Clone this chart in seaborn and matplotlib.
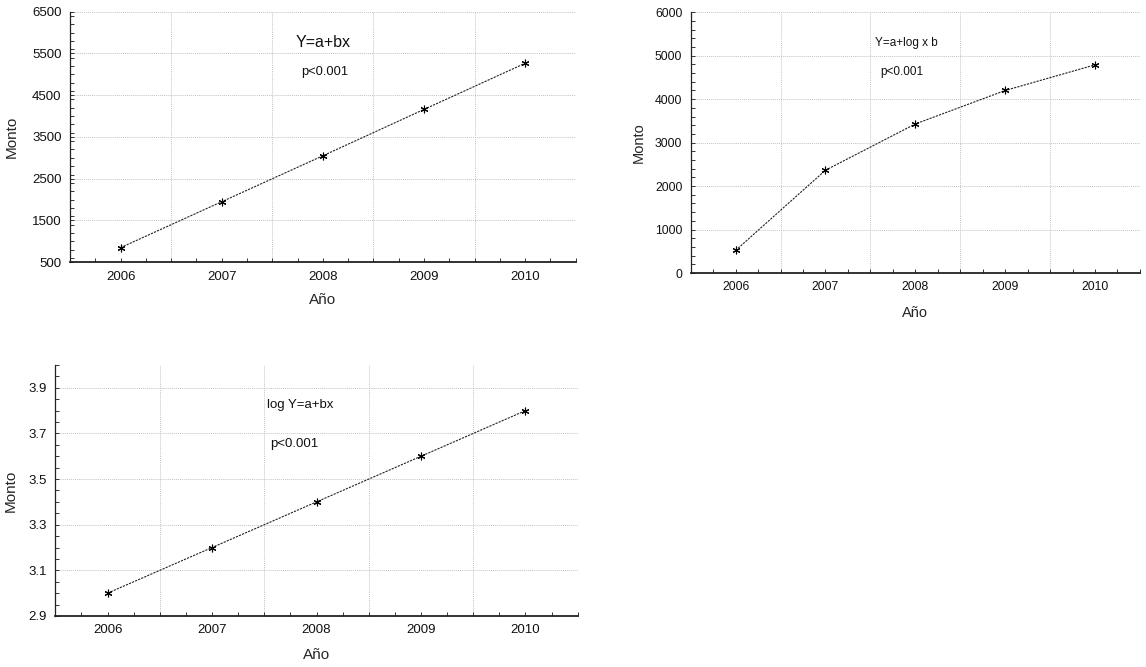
import numpy as np
import pandas as pd
import matplotlib
matplotlib.use("Agg")
import matplotlib.pyplot as plt
from matplotlib.ticker import FixedLocator, MultipleLocator
import seaborn as sns

# Data
years = [2006, 2007, 2008, 2009, 2010]
monto_lineal = [850, 1950, 3050, 4160, 5265]
monto_log = [520, 2365, 3430, 4200, 4790]
log_monto = [3.0, 3.2, 3.4, 3.6, 3.8]

sns.set_style("white")
plt.rcParams["font.family"] = ["Liberation Sans", "DejaVu Sans"]
plt.rcParams["text.color"] = "#111111"

fig = plt.figure(figsize=(11.46, 6.67), dpi=100)

# axes rectangles in figure fraction
ax1 = fig.add_axes([0.0611, 0.6068, 0.4413, 0.3757])
ax2 = fig.add_axes([0.6027, 0.5907, 0.3920, 0.3909])
ax3 = fig.add_axes([0.0483, 0.0765, 0.4558, 0.3763])

line_kw = dict(color="#222222", linewidth=0.8, linestyle=(0, (2.0, 1.0)),
               marker=(6, 2, 0), markersize=5.5, markeredgewidth=0.8,
               markeredgecolor="black")


def style_axes(ax, ylim, ymajor, yminor, tick_fs, label_fs, xlab_off, ylab_off, h_px, w_px):
    ax.set_xlim(2005.5, 2010.5)
    ax.set_ylim(*ylim)
    ax.xaxis.set_major_locator(FixedLocator(years))
    ax.xaxis.set_minor_locator(MultipleLocator(0.25))
    ax.yaxis.set_major_locator(FixedLocator(ymajor))
    ax.yaxis.set_minor_locator(MultipleLocator(yminor))
    ax.set_xticklabels([str(y) for y in years])
    ax.tick_params(axis="both", which="both", direction="in", length=3,
                   width=0.7, color="#333333", labelsize=tick_fs,
                   labelcolor="#111111", pad=6)
    ax.tick_params(axis="x", which="both", bottom=True, top=False)
    ax.tick_params(axis="y", which="both", left=True, right=False)
    for s in ["top", "right"]:
        ax.spines[s].set_visible(False)
    ax.spines["bottom"].set_linewidth(1.3)
    ax.spines["bottom"].set_color("#222222")
    ax.spines["left"].set_linewidth(0.9)
    ax.spines["left"].set_color("#222222")
    # dotted grid: horizontal at labelled values, vertical between years
    for yv in ymajor:
        if yv > ylim[0]:
            ax.axhline(yv, color="#c4c4c4", linewidth=0.7, linestyle=(0, (1, 1)), zorder=0)
    for xv in np.arange(2006.5, 2011.0, 1.0):
        ax.axvline(xv, color="#c4c4c4", linewidth=0.7, linestyle=(0, (1, 1)), zorder=0)
    ax.set_xlabel("Año", fontsize=label_fs, va="center")
    ax.set_ylabel("Monto", fontsize=label_fs, va="center")
    ax.xaxis.set_label_coords(0.5, -xlab_off / h_px)
    ax.yaxis.set_label_coords(-ylab_off / w_px, 0.5)


df1 = pd.DataFrame({"Año": years, "Monto": monto_lineal})
df2 = pd.DataFrame({"Año": years, "Monto": monto_log})
df3 = pd.DataFrame({"Año": years, "Monto": log_monto})

sns.lineplot(data=df1, x="Año", y="Monto", ax=ax1, **line_kw)
sns.lineplot(data=df2, x="Año", y="Monto", ax=ax2, **line_kw)
sns.lineplot(data=df3, x="Año", y="Monto", ax=ax3, **line_kw)

style_axes(ax1, (500, 6500), list(range(500, 6501, 1000)), 200, 9.5, 11,
           38, 58, 250.6, 505.7)
style_axes(ax2, (0, 6000), list(range(0, 6001, 1000)), 200, 8.8, 10.5,
           40, 52, 260.7, 449.3)
style_axes(ax3, (2.9, 4.0), [2.9, 3.1, 3.3, 3.5, 3.7, 3.9], 0.05, 9.5, 11,
           39, 45, 251.0, 522.4)
ax3.set_yticklabels(["2.9", "3.1", "3.3", "3.5", "3.7", "3.9"])

# model annotations
ax1.text(0.500, 0.875, "Y=a+bx", transform=ax1.transAxes, ha="center", va="center", fontsize=11.5)
ax1.text(0.504, 0.759, "p<0.001", transform=ax1.transAxes, ha="center", va="center", fontsize=9.3)
ax2.text(0.481, 0.882, "Y=a+log x b", transform=ax2.transAxes, ha="center", va="center", fontsize=8.5)
ax2.text(0.470, 0.771, "p<0.001", transform=ax2.transAxes, ha="center", va="center", fontsize=8.5)
ax3.text(0.468, 0.841, "log Y=a+bx", transform=ax3.transAxes, ha="center", va="center", fontsize=9.5)
ax3.text(0.458, 0.685, "p<0.001", transform=ax3.transAxes, ha="center", va="center", fontsize=9.5)

fig.savefig("out.png", dpi=100, facecolor="white")
